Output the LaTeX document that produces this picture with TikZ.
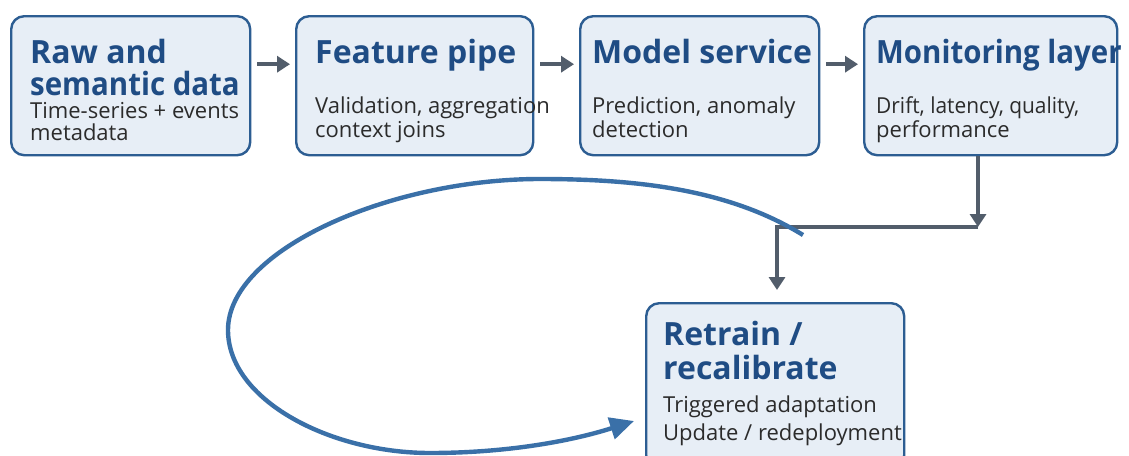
\documentclass[tikz,border=0pt]{standalone}
\usepackage{fontspec}
\setmainfont{Open Sans}
\usetikzlibrary{arrows.meta}
\definecolor{boxfill}{HTML}{E7EEF6}
\definecolor{boxline}{HTML}{2C5D92}
\definecolor{ttlblue}{HTML}{1F4C84}
\definecolor{txtgray}{HTML}{2B2B2B}
\definecolor{flowgray}{HTML}{525D6B}
\definecolor{loopblue}{HTML}{3A70A8}
\begin{document}
\begin{tikzpicture}[
    x=1pt, y=-1pt,
    box/.style={draw=boxline, fill=boxfill, line width=2.4pt, rounded corners=13pt, anchor=north west, inner sep=0pt, minimum height=139pt},
    ttl/.style={anchor=base west, inner sep=0pt, text=ttlblue, font=\fontsize{32}{36}\selectfont\bfseries},
    tightttl/.style={ttl, font=\fontsize{32}{36}\selectfont\bfseries\addfontfeature{FakeStretch=0.92}},
    txt/.style={anchor=base west, inner sep=0pt, text=txtgray, font=\fontsize{22}{26}\selectfont},
    tighttxt/.style={txt, font=\fontsize{22}{26}\selectfont\addfontfeature{FakeStretch=0.95}},
    flow/.style={draw=flowgray, line width=3.6pt, -{Triangle[length=13pt, width=16pt]}},
    loopback/.style={draw=loopblue, line width=4.4pt, -{Triangle[length=24pt, width=22pt]}}
]
\useasboundingbox (0,0) rectangle (1129,455);
\fill[white] (0,0) rectangle (1129,455);

\node[box, minimum width=239pt] (raw) at (10,15) {};
\node[box, minimum width=237pt] (feat) at (295,15) {};
\node[box, minimum width=239pt] (model) at (579,15) {};
\node[box, minimum width=253pt] (mon) at (863,15) {};
\node[box, minimum width=258pt, minimum height=165pt] (retrain) at (645,302) {};

\node[ttl] (raw-t1) at (30,63) {Raw and};
\node[tightttl] (raw-t2) at (30,95) {semantic data};
\node[txt] (raw-b1) at (30,118) {Time-series + events};
\node[txt] (raw-b2) at (30,140) {metadata};

\node[ttl] (feat-t) at (315,63) {Feature pipe};
\node[txt] (feat-b1) at (315,113) {Validation, aggregation};
\node[txt] (feat-b2) at (315,137) {context joins};

\node[ttl] (model-t) at (592,63) {Model service};
\node[txt] (model-b1) at (592,113) {Prediction, anomaly};
\node[txt] (model-b2) at (592,137) {detection};

\node[tightttl] (mon-t) at (876,63) {Monitoring layer};
\node[tighttxt] (mon-b1) at (876,113) {Drift, latency, quality,};
\node[txt] (mon-b2) at (876,137) {performance};

\node[ttl] (retrain-t1) at (663,345) {Retrain /};
\node[ttl] (retrain-t2) at (663,379) {recalibrate};
\node[txt] (retrain-b1) at (663,412) {Triggered adaptation};
\node[txt] (retrain-b2) at (663,440) {Update / redeployment};

\draw[flow, shorten <=6pt, shorten >=5pt] ([yshift=21.5pt]raw.east) -- ([yshift=21.5pt]feat.west);
\draw[flow, shorten <=6pt, shorten >=5pt] ([yshift=21.5pt]feat.east) -- ([yshift=21.5pt]model.west);
\draw[flow, shorten <=6pt, shorten >=5pt] ([yshift=21.5pt]model.east) -- ([yshift=21.5pt]mon.west);

\coordinate (corner) at (978,227);
\coordinate (bend) at (777,227);
\draw[flow] (corner |- mon.south) -- (corner);
\draw[flow, shorten >=12pt] (corner) -- (bend) -- (bend |- retrain.north);

\coordinate (loopstart) at (803,235);
\coordinate (loopend) at (634,421);
\draw[loopback] (loopstart) .. controls (730,190) and (640,179) .. (540,179)
    .. controls (390,179) and (228,250) .. (228,330)
    .. controls (228,400) and (330,453) .. (430,453)
    .. controls (510,453) and (575,440) .. (loopend);
\end{tikzpicture}
\end{document}
